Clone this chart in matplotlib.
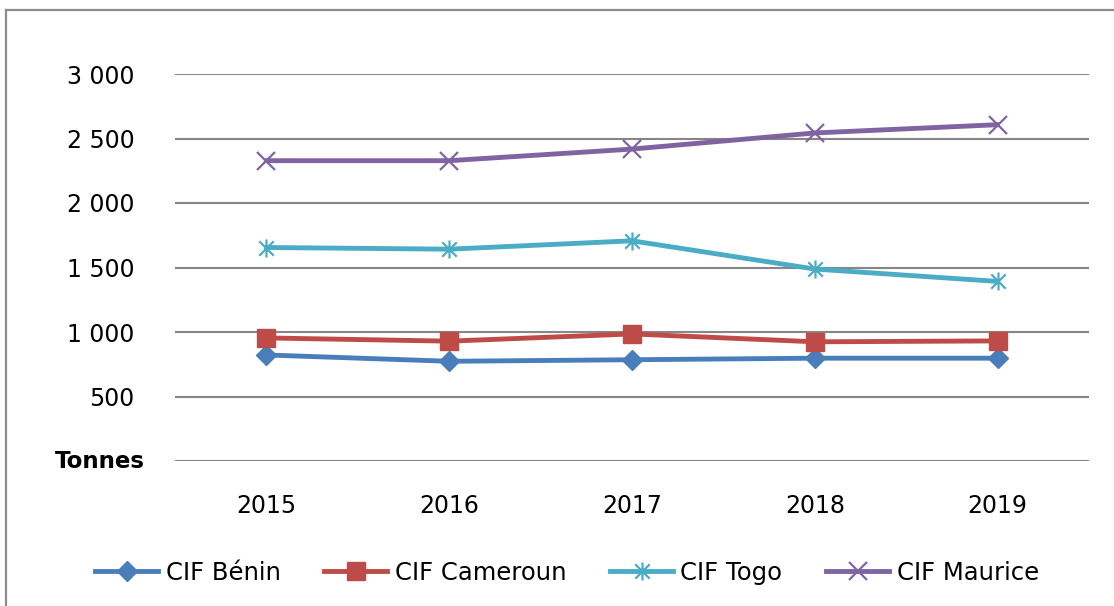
import matplotlib
matplotlib.use("Agg")
import matplotlib.pyplot as plt
from matplotlib.lines import Line2D
from matplotlib.path import Path
import matplotlib.transforms as mtransforms

years = ["2015", "2016", "2017", "2018", "2019"]
benin = [822, 773, 785, 797, 797]
cameroun = [954, 929, 985, 924, 931]
togo = [1655, 1642, 1707, 1488, 1392]
maurice = [2328, 2328, 2418, 2543, 2607]
series_names = ["CIF Bénin", "CIF Cameroun", "CIF Togo", "CIF Maurice"]
yticks = [0, 500, 1000, 1500, 2000, 2500, 3000]
ytick_labels = ["", "500", "1 000", "1 500", "2 000", "2 500", "3 000"]

colors = ["#4A7EBB", "#BE4B48", "#4BACC6", "#8064A2"]

plt.rcParams['font.family'] = ['DejaVu Sans']

# Excel-style star marker: vertical bar plus an X
star = Path([(0, -1), (0, 1), (-0.8, -0.8), (0.8, 0.8), (-0.8, 0.8), (0.8, -0.8)],
            [Path.MOVETO, Path.LINETO, Path.MOVETO, Path.LINETO, Path.MOVETO, Path.LINETO])

W, H = 1114, 606
fig = plt.figure(figsize=(W / 100, H / 100), dpi=100)
ax = fig.add_axes([175 / W, 1 - 461 / H, (1089 - 175) / W, (461 - 74) / H])

x = list(range(len(years)))
ax.plot(x, benin, color=colors[0], lw=3.5, marker='D', ms=10.5, mec=colors[0], mfc=colors[0], label=series_names[0], zorder=3)
ax.plot(x, cameroun, color=colors[1], lw=3.5, marker='s', ms=13, mec=colors[1], mfc=colors[1], label=series_names[1], zorder=3)
ax.plot(x, togo, color=colors[2], lw=3.5, marker=star, ms=13, mew=1.6, mec=colors[2], mfc='none', label=series_names[2], zorder=3)
ax.plot(x, maurice, color=colors[3], lw=3.5, marker='x', ms=13, mew=1.6, mec=colors[3], label=series_names[3], zorder=3)

ax.set_xlim(-0.5, len(years) - 0.5)
ax.set_ylim(0, 3000)
ax.set_yticks(yticks)
ax.set_yticklabels(ytick_labels, fontsize=17)
ax.set_xticks(x)
ax.set_xticklabels(years, fontsize=17)
ax.tick_params(axis='both', length=0)
ax.tick_params(axis='y', pad=29)
ax.tick_params(axis='x', pad=24)
for s in ax.spines.values():
    s.set_visible(False)
ax.yaxis.grid(True, color="#868686", lw=1.5)
ax.set_axisbelow(True)

trans = mtransforms.blended_transform_factory(fig.transFigure, ax.transData)
ax.text(145 / W, 0, "Tonnes", transform=trans, ha='right', va='center',
        fontsize=16.5, fontweight='bold')

# outer frame (left and top edges visible)
fig.add_artist(Line2D([6 / W, 6 / W], [0, 1 - 10 / H], transform=fig.transFigure, color="#8c8c8c", lw=1.6))
fig.add_artist(Line2D([6 / W, 1], [1 - 10 / H, 1 - 10 / H], transform=fig.transFigure, color="#8c8c8c", lw=1.6))

leg = fig.legend(loc='center', bbox_to_anchor=(567 / W, 1 - 573 / H), ncol=4, frameon=False,
                 fontsize=17.5, handlelength=2.6, handletextpad=0.3, columnspacing=1.8)

fig.savefig("out.png", dpi=100)
